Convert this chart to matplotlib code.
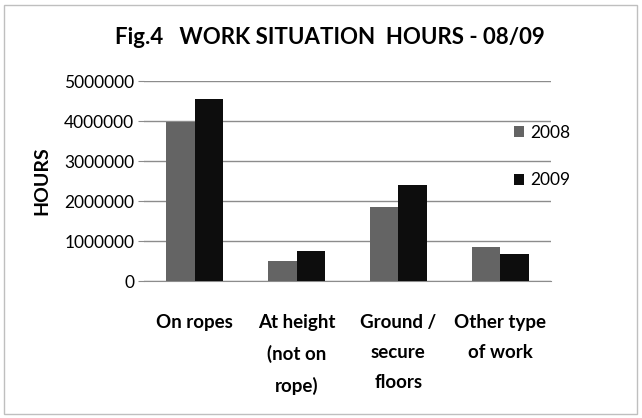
import matplotlib
matplotlib.use("Agg")
import matplotlib.pyplot as plt
import numpy as np
from matplotlib.patches import Rectangle

categories = ["On ropes", "At height\n(not on\nrope)", "Ground /\nsecure\nfloors", "Other type\nof work"]
series_names = ["2008", "2009"]
values_2008 = [3980000, 490000, 1850000, 860000]
values_2009 = [4560000, 740000, 2410000, 670000]
yticks = [0, 1000000, 2000000, 3000000, 4000000, 5000000]
colors = ["#646464", "#0d0d0d"]

plt.rcParams['font.family'] = ['Lato', 'DejaVu Sans']

W, H = 642, 418
fig = plt.figure(figsize=(W/100, H/100), dpi=100)
fig.patches.append(Rectangle((4/W, 4/H), (W-9)/W, (H-9)/H, transform=fig.transFigure,
                             fill=False, edgecolor="#bfbfbf", linewidth=1))

ax = fig.add_axes([144/W, 1-281/H, (551-144)/W, (281-81)/H])
x = np.arange(len(categories))
bw = 0.28
ax.bar(x - bw/2, values_2008, bw, color=colors[0], label=series_names[0], zorder=3)
ax.bar(x + bw/2, values_2009, bw, color=colors[1], label=series_names[1], zorder=3)
ax.set_xlim(-0.5, len(categories) - 0.5)
ax.set_ylim(0, 5000000)
ax.set_yticks(yticks)
ax.set_yticklabels([str(v) for v in yticks], fontsize=12.5)
ax.yaxis.grid(True, color="#8c8c8c", linewidth=1, zorder=0)
ax.set_xticks(x)
ax.set_xticklabels(categories, fontsize=13.5, fontweight="bold", va="top", linespacing=1.9)
ax.tick_params(axis='x', length=0, pad=24)
ax.tick_params(axis='y', length=4, color="#8c8c8c", pad=3)
for s in ["top", "right", "left"]:
    ax.spines[s].set_visible(False)
ax.spines["bottom"].set_color("#8c8c8c")
ax.set_ylabel("HOURS", fontsize=14, fontweight="bold", labelpad=10)

fig.text(330/W, 1-38/H, "Fig.4   WORK SITUATION  HOURS - 08/09", fontsize=16, fontweight="bold",
         ha="center", va="center")

leg = ax.legend(loc="upper left", bbox_to_anchor=(363/407, 0.815), frameon=False, fontsize=12.5,
                handlelength=0.6, handleheight=0.6, labelspacing=1.8, handletextpad=0.35,
                borderaxespad=0)

fig.savefig("out.png", dpi=100)
